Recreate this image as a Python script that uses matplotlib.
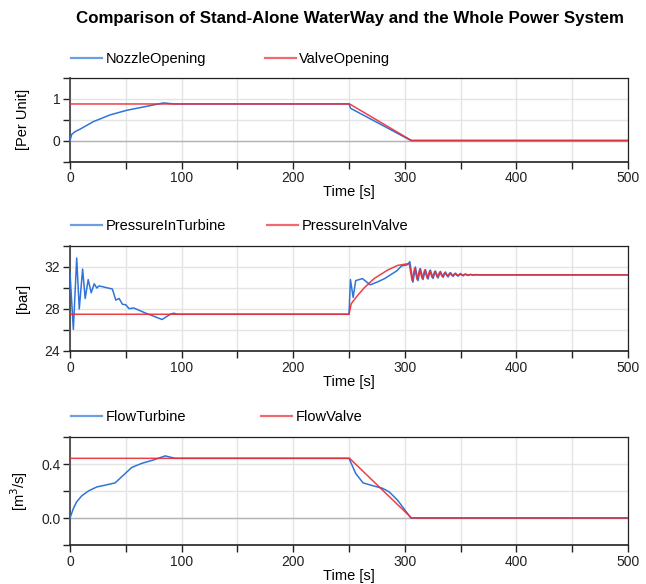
import matplotlib
matplotlib.use("Agg")
import matplotlib.pyplot as plt
from matplotlib.ticker import MultipleLocator, FixedLocator

plt.rcParams['font.family'] = ['Liberation Sans', 'DejaVu Sans']
plt.rcParams['font.size'] = 10

# ---------------- data ----------------
# Panel 1: openings [Per Unit]
t_nozzle = [0, 1.5, 4.5, 9, 21, 36, 51, 66, 84, 93, 250, 251.5, 305.5, 500]
nozzle = [0, 0.145, 0.21, 0.27, 0.45, 0.61, 0.72, 0.80, 0.895, 0.87, 0.87, 0.765, 0, 0]
t_valve = [0, 250.5, 306, 500]
valve = [0.87, 0.87, 0, 0]

# Panel 2: pressures [bar]
t_pturb = [0, 3, 6, 8.3, 11.3, 13.6, 16.3, 19, 21.7, 24, 26, 38, 41, 44, 47, 50, 53, 57,
           68, 82.5, 90, 93, 96, 100, 250, 251.3, 253.7, 256, 262, 269, 275, 282, 293, 297,
           302, 304.5, 307.3, 309.5, 311.8, 314, 316.3, 318.5, 320.8, 323, 325.3, 327.5,
           329.8, 332, 334.3, 336.5, 338.8, 341, 343.3, 345.5, 347.8, 350, 352.3, 354.5,
           356.8, 359, 361.3, 363.5, 366, 500]
pturb = [31.4, 26.06, 32.86, 28.0, 31.8, 29.0, 30.8, 29.55, 30.4, 30.0, 30.2, 29.9, 28.85,
         29.0, 28.45, 28.4, 28.03, 28.1, 27.6, 27.0, 27.5, 27.6, 27.5, 27.5, 27.5, 30.8, 29.1,
         30.7, 30.9, 30.3, 30.55, 30.9, 31.65, 32.1, 32.2, 32.5, 30.55, 32.0, 30.7, 31.85,
         30.8, 31.75, 30.85, 31.7, 30.9, 31.62, 30.95, 31.58, 31.0, 31.52, 31.05, 31.47,
         31.1, 31.42, 31.13, 31.38, 31.16, 31.34, 31.19, 31.3, 31.22, 31.28, 31.25, 31.25]
t_pvalve = [0, 250, 252, 257, 263.5, 272.5, 284.5, 293.5, 302, 304, 306.5, 308.8, 311,
            313.3, 315.5, 317.8, 320, 322.3, 324.5, 326.8, 329, 331.3, 333.5, 335.8, 338,
            340.3, 342.5, 344.8, 347, 349.3, 351.5, 353.8, 356, 358.3, 361, 365, 500]
pvalve = [27.5, 27.5, 28.5, 29.2, 30.0, 30.9, 31.7, 32.15, 32.3, 32.3, 30.7, 31.9, 30.8,
          31.8, 30.9, 31.7, 30.95, 31.65, 31.0, 31.58, 31.05, 31.52, 31.1, 31.47, 31.13,
          31.42, 31.16, 31.37, 31.18, 31.33, 31.2, 31.3, 31.22, 31.28, 31.24, 31.25, 31.25]

# Panel 3: flows [m3/s]
t_fturb = [0, 3, 6, 10.5, 16.5, 24, 31.4, 40.4, 46.4, 55.4, 64.4, 74.8, 85.3, 94.3, 250,
           252, 256, 262.6, 271, 280, 286, 293.5, 305.5, 500]
fturb = [0, 0.07, 0.12, 0.164, 0.2, 0.23, 0.243, 0.26, 0.306, 0.375, 0.405, 0.43, 0.46,
         0.442, 0.442, 0.405, 0.33, 0.26, 0.24, 0.22, 0.194, 0.132, 0, 0]
t_fvalve = [0, 250.5, 306, 500]
fvalve = [0.442, 0.442, 0, 0]

title = "Comparison of Stand-Alone WaterWay and the Whole Power System"
panels = [
    dict(t1=t_nozzle, y1=nozzle, l1="NozzleOpening", t2=t_valve, y2=valve, l2="ValveOpening",
         ylabel="[Per Unit]", ylim=(-0.5, 1.5), major=[0, 1], minor=[-0.5, 0.5, 1.5],
         fmt="{:g}", zero=True),
    dict(t1=t_pturb, y1=pturb, l1="PressureInTurbine", t2=t_pvalve, y2=pvalve, l2="PressureInValve",
         ylabel="[bar]", ylim=(24, 34), major=[24, 28, 32], minor=[26, 30, 34],
         fmt="{:g}", zero=False),
    dict(t1=t_fturb, y1=fturb, l1="FlowTurbine", t2=t_fvalve, y2=fvalve, l2="FlowValve",
         ylabel="[m$^3$/s]", ylim=(-0.2, 0.6), major=[0.0, 0.4], minor=[-0.2, 0.2, 0.6],
         fmt="{:.1f}", zero=True),
]

# ---------------- layout (pixels) ----------------
W, H = 646, 584
BLUE = "#2f74d8"
RED = "#ee2a33"
GRID = "#e4e4e4"
ax_px = [(77.5, 161.5), (246, 351), (437, 545)]  # (top, bottom)
leg_y = [59, 226, 417]
leg2_x = [265, 267, 261]
left, right = 70, 628

fig = plt.figure(figsize=(W / 100, H / 100), dpi=100)
fig.text(0.5 * (74 + 625) / W, 1 - 18 / H, title, ha="center", va="center",
         fontsize=12.2, fontweight="bold")

for p, (top, bot), ly, l2x in zip(panels, ax_px, leg_y, leg2_x):
    ax = fig.add_axes([left / W, 1 - bot / H, (right - left) / W, (bot - top) / H])
    ax.set_xlim(0, 500)
    ax.set_ylim(*p["ylim"])
    ax.xaxis.set_major_locator(MultipleLocator(100))
    ax.xaxis.set_minor_locator(MultipleLocator(50))
    ax.yaxis.set_major_locator(FixedLocator(p["major"]))
    ax.yaxis.set_minor_locator(FixedLocator(p["minor"]))
    ax.set_yticklabels([p["fmt"].format(v) for v in p["major"]])
    ax.grid(True, which="both", color=GRID, lw=1.0, zorder=0)
    ax.set_axisbelow(True)
    if p["zero"]:
        ax.axhline(0, color="#b4b4b4", lw=1.0, zorder=1)
    ax.tick_params(which="both", direction="out", length=5, width=1, colors="#222222",
                   labelsize=10, pad=2)
    for s in ax.spines.values():
        s.set_color("#222222")
        s.set_linewidth(0.9)
    ax.spines["left"].set_linewidth(1.4)
    ax.spines["left"].set_color("#555555")
    ax.spines["bottom"].set_linewidth(1.2)

    h1, = ax.plot(p["t1"], p["y1"], color=BLUE, lw=1.1, zorder=3)
    h2, = ax.plot(p["t2"], p["y2"], color=RED, lw=1.1, alpha=0.9, zorder=4)

    ax.set_xlabel("Time [s]", fontsize=10.5, labelpad=0)
    ax.set_ylabel(p["ylabel"], fontsize=10.5)
    ax.yaxis.set_label_coords(-(left - 30) / (right - left), 0.5)

    for h, lab, x0 in ((h1, p["l1"], 71), (h2, p["l2"], l2x)):
        lg = fig.legend([h], [lab], loc="center left",
                        bbox_to_anchor=(x0 / W, 1 - ly / H), bbox_transform=fig.transFigure,
                        frameon=False, borderpad=0, borderaxespad=0, handlelength=2.1,
                        handletextpad=0.25, fontsize=10.5)
        for ln in lg.get_lines():
            ln.set_alpha(0.7)
            ln.set_linewidth(1.6)

fig.savefig("out.png", dpi=100)
